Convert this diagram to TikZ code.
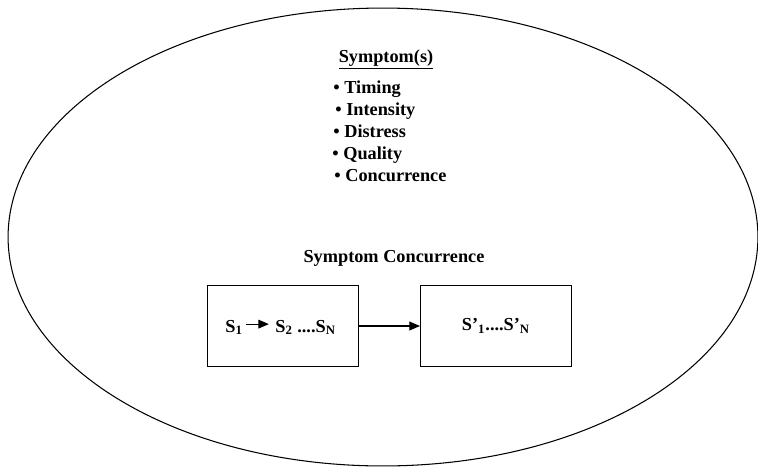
\documentclass[tikz,border=0pt]{standalone}
\usepackage{fontspec}
\setmainfont{Liberation Serif}
\usetikzlibrary{arrows.meta}

\begin{document}
\begin{tikzpicture}[
  x=0.02cm, y=-0.02cm,
  txt/.style  ={font=\fontsize{10.4}{12}\selectfont\bfseries, inner sep=0pt},
  itemTxt/.style={txt, anchor=base west},
  seqBox/.style ={draw, line width=0.6pt, inner sep=0pt, minimum width=3.02cm, minimum height=1.62cm,
                  font=\fontsize{10.4}{12}\selectfont\bfseries},
  conn/.style ={line width=0.6pt, -{Triangle[length=6pt,width=5pt]}},
]
% canvas: pixel coordinates of the reference, y downwards
\useasboundingbox (0,0) rectangle (758,468);
\begin{scope}
  \clip (0,0) rectangle (758,468);
  \draw[line width=0.6pt] (383,237) ellipse [x radius=7.5cm, y radius=4.58cm];
\end{scope}
% symptom dimensions
\node[txt, anchor=base] (hdr) at (386,62) {\underline{Symptom(s)}};
\foreach \i/\lbl/\xx in {0/Timing/333, 1/Intensity/335, 2/Distress/333, 3/Quality/332, 4/Concurrence/334} {
  \node[itemTxt] (it\i) at (\xx,93+22*\i) {\textbullet\ \lbl};
}
% concurrence over time
\node[txt, anchor=base] (conc) at (394,262) {Symptom Concurrence};
\node[seqBox] (left)  at (283,326) {};
\node[seqBox] (right) at (496,326) {S’\textsubscript{1}....S’\textsubscript{N}};
\node[itemTxt] (s1) at (225,332) {S\textsubscript{1}};
\node[itemTxt] (s2) at (275,332) {S\textsubscript{2} ....S\textsubscript{N}};
\draw[conn, shorten <=1.5pt, shorten >=3.5pt] ([yshift=2.2pt]s1.mid east) -- ([yshift=2.2pt]s2.mid west);
\draw[conn] (left) -- (right);
\end{tikzpicture}
\end{document}
